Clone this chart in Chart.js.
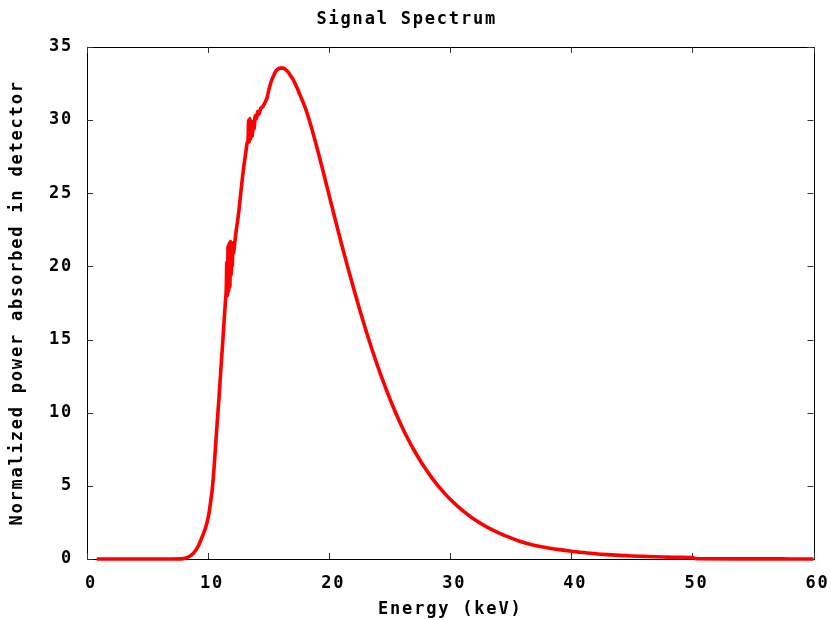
<!DOCTYPE html>
<html>
<head>
<meta charset="utf-8">
<script src="https://cdn.jsdelivr.net/npm/chart.js@4/dist/chart.umd.min.js"></script>
<style>
html,body{margin:0;padding:0;background:#fff;}
#wrap{width:831px;height:620px;position:relative;}
</style>
</head>
<body>
<div id="wrap"><canvas id="c" width="831" height="620"></canvas></div>
<script>
const chartTitle = "Signal Spectrum";
const xAxisTitle = "Energy (keV)";
const yAxisTitle = "Normalized power absorbed in detector";
const xTicks = [0, 10, 20, 30, 40, 50, 60];
const yTicks = [0, 5, 10, 15, 20, 25, 30, 35];

const energy = [0.8,2,4,6,7,7.8,8.1,8.4,8.8,9.2,9.5,9.8,10.05,10.2,10.35,10.5,10.6,10.75,10.9,11.05,11.2,11.35,11.45,
  11.5,11.55,11.6,11.65,11.7,11.75,11.8,11.85,11.9,11.95,12.0,12.05,12.1,12.2,12.3,12.5,12.7,12.9,13.1,13.25,
  13.3,13.35,13.4,13.45,13.5,13.6,13.65,13.7,13.8,13.9,14.0,14.1,14.2,14.35,14.5,14.7,14.9,15.0,15.2,15.4,15.6,15.8,
  16.0,16.2,16.4,16.6,16.8,17.0,17.3,17.6,18.0,18.5,19.0,19.5,20.0,20.5,21.0,21.5,22.0,22.5,23.0,23.5,24.0,24.5,
  25.0,25.5,26.0,26.5,27.0,27.5,28.0,28.5,29.0,29.5,30.0,31,32,33,34,35,36,37,38,39,40,41,42,43,44,45,46,47,48,49,50,50.3,55,58,60];
const power = [0,0,0,0,0,0.01,0.05,0.15,0.4,0.9,1.5,2.15,3.0,3.85,4.8,6.3,7.5,9.3,11.0,12.9,14.7,16.6,17.8,
  18.4,20.3,18.0,21.4,18.3,21.6,18.6,21.7,19.4,21.2,20.0,21.6,20.9,21.6,22.3,23.5,25.0,26.5,27.7,28.5,
  28.6,30.0,28.5,30.1,28.7,29.8,28.9,29.9,29.4,30.3,30.1,30.6,30.4,30.8,30.9,31.2,31.6,32.0,32.6,33.0,33.35,33.5,
  33.55,33.55,33.45,33.3,33.05,32.8,32.3,31.7,30.9,29.6,28.1,26.5,24.85,23.2,21.6,20.05,18.55,17.1,15.72,14.42,13.2,12.05,
  10.98,9.98,9.06,8.22,7.45,6.75,6.11,5.53,5.0,4.52,4.08,3.32,2.7,2.2,1.79,1.44,1.14,0.93,0.77,0.64,0.53,0.44,0.36,0.3,0.25,0.21,0.18,0.15,0.13,0.11,0.1,0.02,0.01,0.005,0];

const FONT = {family: "'DejaVu Sans Mono', 'Liberation Mono', monospace", size: 17, weight: 'bold'};

const spacingPlugin = {
  id: 'spacing',
  beforeDraw(chart) { try { chart.ctx.letterSpacing = '1.8px'; } catch(e) {} }
};

const framePlugin = {
  id: 'frame',
  beforeDatasetsDraw(chart) {
    const {ctx, chartArea: a, scales} = chart;
    ctx.save();
    ctx.strokeStyle = '#000';
    ctx.lineWidth = 1;
    ctx.strokeRect(Math.round(a.left) + 0.5, Math.round(a.top) + 0.5, Math.round(a.right - a.left), Math.round(a.bottom - a.top));
    ctx.strokeStyle = '#333';
    const L = 6;
    ctx.beginPath();
    xTicks.forEach(v => {
      const x = Math.round(scales.x.getPixelForValue(v)) + 0.5;
      ctx.moveTo(x, a.bottom); ctx.lineTo(x, a.bottom - L);
      ctx.moveTo(x, a.top); ctx.lineTo(x, a.top + L);
    });
    yTicks.forEach(v => {
      const y = Math.round(scales.y.getPixelForValue(v)) + 0.5;
      ctx.moveTo(a.left, y); ctx.lineTo(a.left + L, y);
      ctx.moveTo(a.right, y); ctx.lineTo(a.right - L, y);
    });
    ctx.stroke();
    ctx.restore();
  }
};

new Chart(document.getElementById('c'), {
  type: 'line',
  data: {
    datasets: [{
      data: energy.map((e, i) => ({x: e, y: power[i]})),
      borderColor: '#ff0000',
      borderWidth: 3.6,
      pointRadius: 0,
      cubicInterpolationMode: 'monotone',
      fill: false,
      clip: false
    }]
  },
  options: {
    responsive: false,
    animation: false,
    devicePixelRatio: 1,
    layout: {padding: {left: 0, right: 17.5, top: 0, bottom: 0}},
    plugins: {
      legend: {display: false},
      tooltip: {enabled: false},
      title: {display: true, text: chartTitle, color: '#000', font: FONT, padding: {top: 9.5, bottom: 17}}
    },
    scales: {
      x: {
        type: 'linear', min: 0, max: 60,
        afterBuildTicks(s) { s.ticks = xTicks.map(v => ({value: v})); },
        afterFit(s) { s.height = 61; },
        grid: {display: false},
        border: {display: false},
        ticks: {color: '#000', font: FONT, padding: 6, maxRotation: 0, labelOffset: 4},
        title: {display: true, text: xAxisTitle, color: '#000', font: FONT, padding: {top: 3, bottom: 0}}
      },
      y: {
        type: 'linear', min: 0, max: 35,
        afterBuildTicks(s) { s.ticks = yTicks.map(v => ({value: v})); },
        afterFit(s) { s.width = 87; },
        grid: {display: false},
        border: {display: false},
        ticks: {color: '#000', font: FONT, padding: 6},
        title: {display: true, text: yAxisTitle, color: '#000', font: FONT, padding: {top: 7, bottom: 0}}
      }
    }
  },
  plugins: [spacingPlugin, framePlugin]
});
</script>
</body>
</html>
